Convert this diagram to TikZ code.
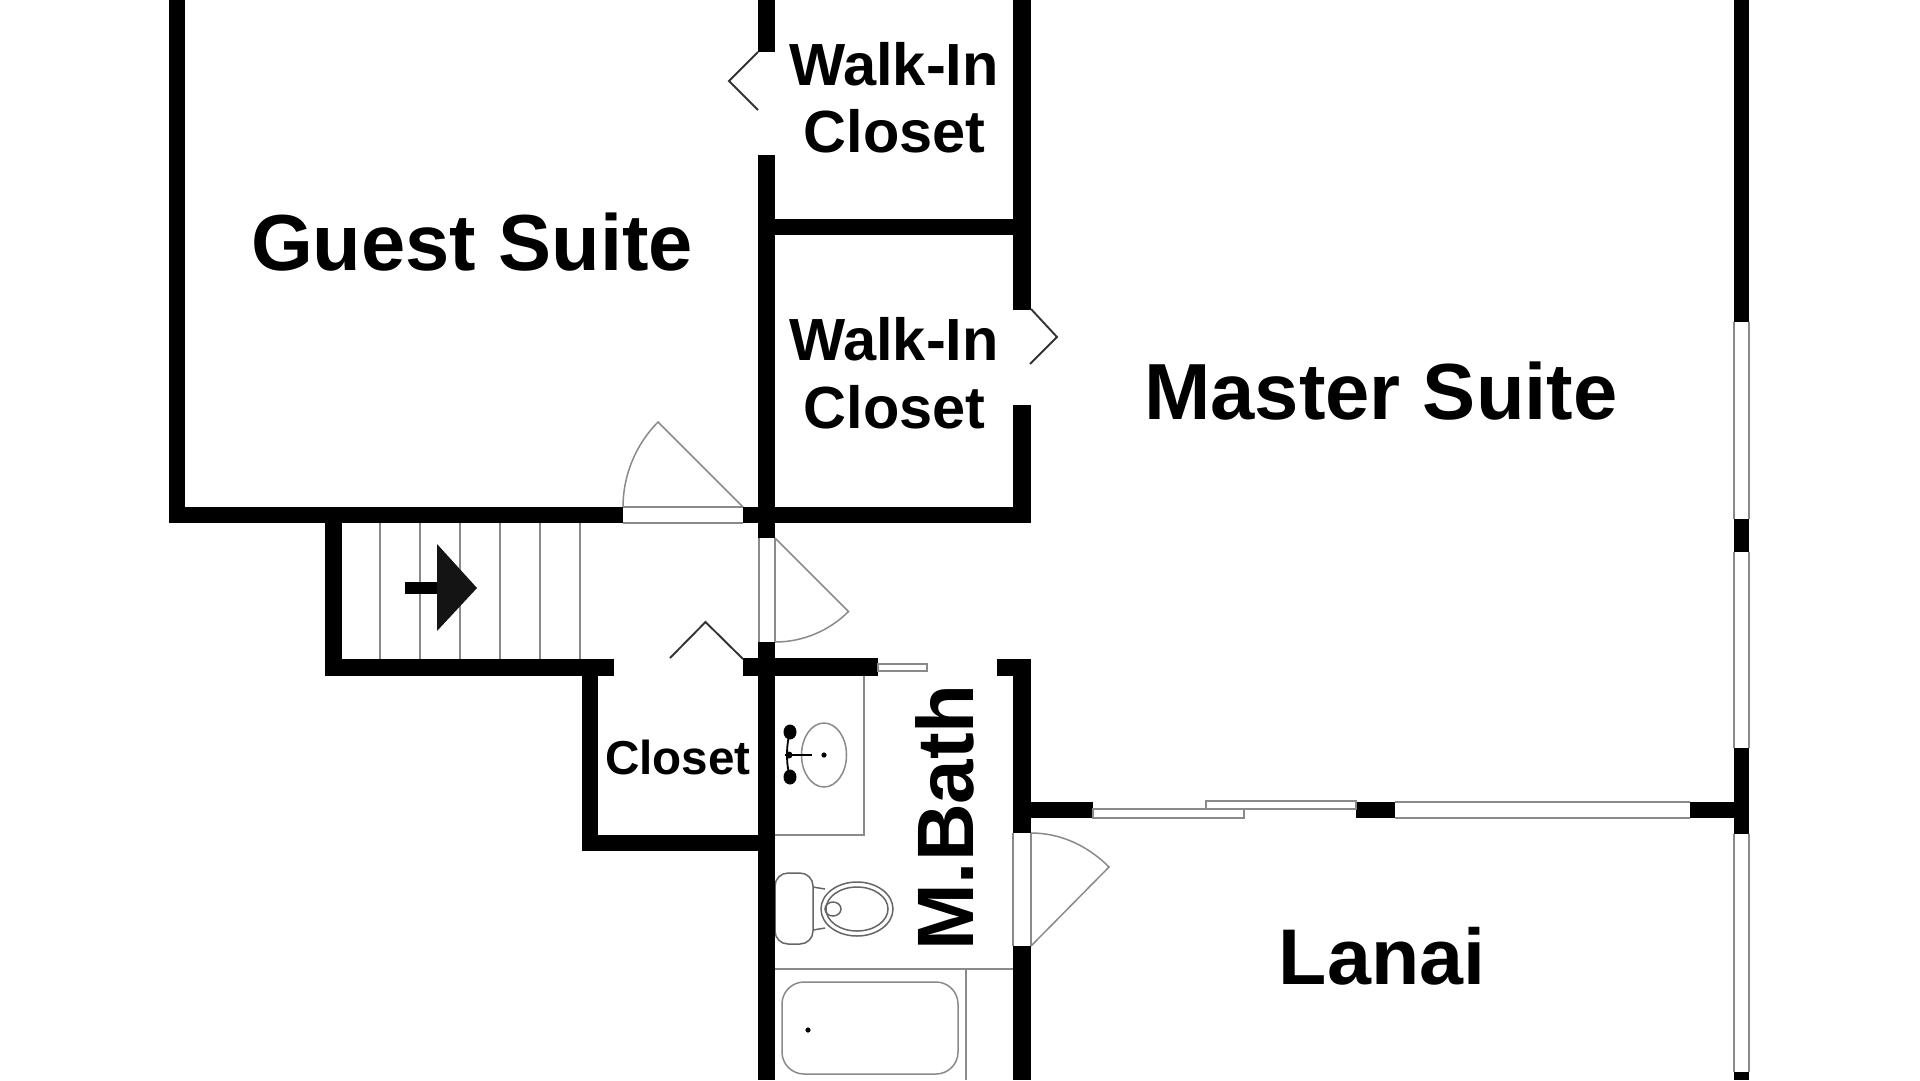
\documentclass[tikz,border=0pt]{standalone}
\usepackage{fontspec}
\setmainfont{Liberation Sans}
\definecolor{wallc}{HTML}{000000}
\definecolor{linec}{HTML}{8A8A8A}
\definecolor{darkl}{HTML}{333333}
\tikzset{
  wall/.style={fill=wallc,draw=none},
  thin line/.style={draw=linec,line width=1.5pt},
  dark line/.style={draw=darkl,line width=1.9pt},
  fixture/.style={draw=darkl!75,line width=1.5pt},
  roomlabel/.style={anchor=base,inner sep=0pt,outer sep=0pt,text=black},
}
\begin{document}
\begin{tikzpicture}[x=1pt,y=-1pt]
\useasboundingbox (0,0) rectangle (1920,1080);
\fill[white] (0,0) rectangle (1920,1080);
% stairs
\foreach \xx in {380,420,460,500,540,580}{\draw[thin line] (\xx,523) -- (\xx,659);}
% toilet tank (behind the wall)
\draw[fixture,rounded corners=13pt] (775,873) rectangle (813,944);
% walls
\fill[wall] (169,0) rectangle (185,523);
\fill[wall] (169,507) rectangle (623,523);
\fill[wall] (743,507) rectangle (1031,523);
\fill[wall] (758,0) rectangle (775,52);
\fill[wall] (758,155) rectangle (775,538);
\fill[wall] (758,642) rectangle (775,1080);
\fill[wall] (775,219) rectangle (1013,235);
\fill[wall] (1013,0) rectangle (1031,310);
\fill[wall] (1013,405) rectangle (1031,523);
\fill[wall] (325,507) rectangle (342,676);
\fill[wall] (325,659) rectangle (614,676);
\fill[wall] (582,659) rectangle (598,851);
\fill[wall] (582,835) rectangle (759,851);
\fill[wall] (743,658) rectangle (878,676);
\fill[wall] (997,659) rectangle (1031,676);
\fill[wall] (1013,659) rectangle (1031,833);
\fill[wall] (1013,946) rectangle (1031,1080);
\fill[wall] (1031,802) rectangle (1093,818);
\fill[wall] (1356,802) rectangle (1395,818);
\fill[wall] (1690,802) rectangle (1734,818);
\fill[wall] (1734,0) rectangle (1749,322);
\fill[wall] (1734,519) rectangle (1749,552);
\fill[wall] (1734,748) rectangle (1749,834);
\fill[wall] (1734,1072) rectangle (1749,1080);
% windows in right wall
\draw[thin line] (1734,322) -- (1734,519) (1749,322) -- (1749,519);
\draw[thin line] (1734,552) -- (1734,748) (1749,552) -- (1749,748);
\draw[thin line] (1734,834) -- (1734,1072) (1749,834) -- (1749,1072);
% sliding door + window
\draw[thin line] (1093,809) rectangle (1244,818);
\draw[thin line] (1206,801) rectangle (1356,809);
\draw[thin line] (1395,802) -- (1690,802) (1395,818) -- (1690,818);
% guest door
\draw[thin line] (623,507) -- (743,507) (623,523) -- (743,523);
\draw[thin line] (623,507) .. controls (623,475.2) and (635.7,444.6) .. (658,422) -- (743,507);
% hall door
\draw[thin line] (759,538) -- (759,642) (775,538) -- (775,642);
\draw[thin line] (775,538) -- (848.5,611.5) .. controls (829,631) and (802.6,642) .. (775,642);
% closet door
\draw[dark line] (670,658) -- (705.5,622) -- (743,659);
% walk-in doors
\draw[dark line] (758,52) -- (729,81) -- (758,110);
\draw[dark line] (1031,309) -- (1057,337) -- (1030,364);
% pocket door
\draw[thin line] (878,664) rectangle (927,671);
% vanity
\draw[thin line] (864,676) -- (864,835) -- (775,835);
\draw[thin line] (824,755) ellipse[x radius=22.5,y radius=32];
\fill[black] (824,755) circle[radius=2.6];
\draw[black,line width=2pt] (785,755) -- (812,755);
\draw[black,line width=1.8pt] (790,732) .. controls (786,745) and (786,765) .. (790,777);
\fill[black] (790,732) ellipse[x radius=6.5,y radius=7.5] (790,777) ellipse[x radius=6.5,y radius=7.5] (789,755) circle[radius=3.5];
% toilet
\draw[fixture] (813,887) -- (825,889) (813,930) -- (825,928);
\draw[fixture] (857,909) ellipse[x radius=36,y radius=27];
\draw[fixture] (857,909) ellipse[x radius=31,y radius=22];
\draw[fixture] (833,909) ellipse[x radius=8,y radius=7];
% tub
\draw[thin line] (775,969) -- (1013,969);
\draw[thin line] (966,969) -- (966,1080);
\draw[thin line,rounded corners=22pt] (782,982) rectangle (958,1074);
\fill[black] (808,1030) circle[radius=2.6];
% bath door
\draw[thin line] (1013,833) -- (1013,946) (1031,833) -- (1031,946);
\draw[thin line] (1031,946) -- (1109,867) .. controls (1088,846) and (1061,833) .. (1031,833);
% stair arrow
\fill[black] (405,582) rectangle (438,594);
\fill[black!92] (437,544) -- (477,588) -- (437,631) -- cycle;
% labels
\node[roomlabel,font=\fontsize{79.5}{79.5}\selectfont\bfseries] (guest) at (472,270) {Guest Suite};
\node[roomlabel,font=\fontsize{79.6}{79.6}\selectfont\bfseries] (master) at (1381,419) {Master Suite};
\node[roomlabel,font=\fontsize{79}{79}\selectfont\bfseries] (lanai) at (1382,984) {Lanai};
\node[roomlabel,font=\fontsize{59.5}{59.5}\selectfont\bfseries] (wi1) at (894,85) {Walk-In};
\node[roomlabel,font=\fontsize{59.5}{59.5}\selectfont\bfseries] (cl1) at (894.5,152) {Closet};
\node[roomlabel,font=\fontsize{59.5}{59.5}\selectfont\bfseries] (wi2) at (894,360) {Walk-In};
\node[roomlabel,font=\fontsize{59.5}{59.5}\selectfont\bfseries] (cl2) at (894.5,428) {Closet};
\node[roomlabel,font=\fontsize{47.6}{47.6}\selectfont\bfseries] (cl3) at (678,774) {Closet};
\node[roomlabel,font=\fontsize{80}{80}\selectfont\bfseries,rotate=90] (bath) at (973,817.5) {M.Bath};
\end{tikzpicture}
\end{document}
